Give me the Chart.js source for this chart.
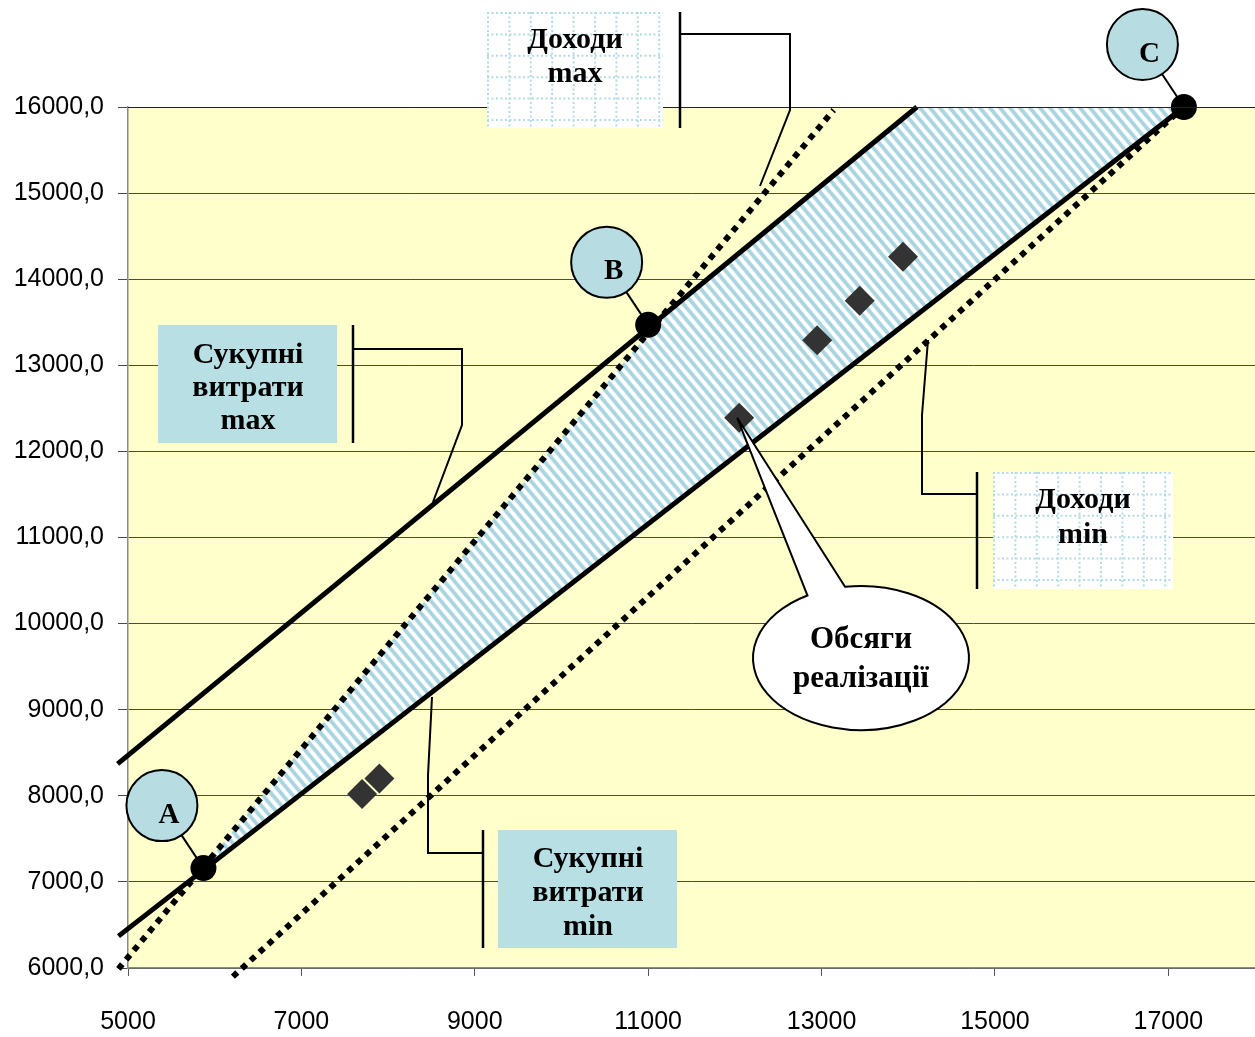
<!DOCTYPE html>
<html lang="uk">
<head>
<meta charset="utf-8">
<title>Зона беззбитковості</title>
<script src="https://cdn.jsdelivr.net/npm/chart.js@4.4.1/dist/chart.umd.min.js"></script>
<style>
  html, body { margin: 0; padding: 0; background: #ffffff; overflow: hidden; }
  #wrap { width: 1255px; height: 1037px; }
</style>
</head>
<body>
<div id="wrap"><canvas id="c" width="1255" height="1037"></canvas></div>
<script>
// Axis ticks
const xTicks = [5000, 7000, 9000, 11000, 13000, 15000, 17000];
const yTicks = [6000, 7000, 8000, 9000, 10000, 11000, 12000, 13000, 14000, 15000, 16000];

// Key points A, B, C
const keyLabels = ['A', 'B', 'C'];
const keyX = [5870, 11000, 17180];
const keyY = [7160, 13470, 16000];

// Sales volumes (Обсяги реалізації)
const salesX = [7700, 7900, 12050, 12950, 13440, 13940];
const salesY = [8020, 8200, 12390, 13290, 13750, 14260];

// Total costs, max and min (solid lines)
const costMaxX = [4880, 14100];
const costMaxY = [8370, 16000];
const costMinX = [4890, 17180];
const costMinY = [6370, 16000];

// Revenue, max and min (dotted lines)
const revMaxX = [4890, 13140];
const revMaxY = [5990, 15965];
const revMinX = [6210, 17130];
const revMinY = [5900, 15960];

// Shaded zone between the lines
const zoneX = [5780, 11190, 14100, 17180, 5780];
const zoneY = [7070, 13600, 16000, 16000, 7070];

const toPts = (xs, ys) => xs.map((x, i) => ({ x, y: ys[i] }));

const canvas = document.getElementById('c');
const ctx = canvas.getContext('2d');

// Diagonal light-blue stripes for the zone fill
function makeHatch() {
  const tw = 10, th = 12;
  const tile = document.createElement('canvas');
  tile.width = tw; tile.height = th;
  const g = tile.getContext('2d');
  const img = g.createImageData(tw, th);
  const blue = [168, 213, 223];
  for (let y = 0; y < th; y++) {
    for (let x = 0; x < tw; x++) {
      const phase = 2 * Math.PI * (x / tw - y / th);
      let w = 0.5 + 0.5 * Math.cos(phase);
      w = Math.min(1, Math.max(0, (w - 0.5) * 1.8 + 0.5));
      const i = (y * tw + x) * 4;
      img.data[i] = Math.round(255 * (1 - w) + blue[0] * w);
      img.data[i + 1] = Math.round(255 * (1 - w) + blue[1] * w);
      img.data[i + 2] = Math.round(255 * (1 - w) + blue[2] * w);
      img.data[i + 3] = 255;
    }
  }
  g.putImageData(img, 0, 0);
  return ctx.createPattern(tile, 'repeat');
}

const YELLOW = '#ffffcc';
const TEAL = '#b8dfe3';
const SERIF = '"Liberation Serif", "Times New Roman", serif';

// Plot background
const plotBackground = {
  id: 'plotBackground',
  beforeDraw(chart) {
    const { ctx, chartArea: a } = chart;
    ctx.save();
    ctx.fillStyle = YELLOW;
    ctx.fillRect(a.left, a.top, a.right - a.left, a.bottom - a.top);
    ctx.restore();
  }
};

function textLines(c, lines, cx, firstBaseline, step, size) {
  c.font = 'bold ' + size + 'px ' + SERIF;
  c.fillStyle = '#000';
  c.textAlign = 'center';
  c.textBaseline = 'alphabetic';
  lines.forEach((t, i) => c.fillText(t, cx, firstBaseline + i * step));
}

function gridBox(c, x, y, w, h) {
  c.save();
  c.fillStyle = '#ffffff';
  c.fillRect(x, y, w, h);
  c.beginPath();
  c.rect(x, y, w, h);
  c.clip();
  c.strokeStyle = '#b3dbe4';
  c.lineWidth = 2;
  c.setLineDash([2, 2.5]);
  c.beginPath();
  for (let gx = x + 1; gx <= x + w; gx += 21.4) { c.moveTo(gx, y); c.lineTo(gx, y + h); }
  for (let gy = y + 1; gy <= y + h; gy += 21.4) { c.moveTo(x, gy); c.lineTo(x + w, gy); }
  c.stroke();
  c.restore();
}

function tealBox(c, x, y, w, h) {
  c.save();
  c.fillStyle = TEAL;
  c.fillRect(x, y, w, h);
  c.restore();
}

function bracket(c, vx, vy1, vy2, path) {
  c.save();
  c.strokeStyle = '#000';
  c.lineCap = 'butt';
  c.lineJoin = 'miter';
  c.lineWidth = 2.5;
  c.beginPath();
  c.moveTo(vx, vy1); c.lineTo(vx, vy2);
  c.stroke();
  c.lineWidth = 2;
  c.beginPath();
  c.moveTo(path[0][0], path[0][1]);
  for (let i = 1; i < path.length; i++) c.lineTo(path[i][0], path[i][1]);
  c.stroke();
  c.restore();
}

// Connectors from the letter circles to the key points (under the dots)
const keyOffset = [-41.5, -62.5];
const leaders = {
  id: 'leaders',
  beforeDatasetsDraw(chart) {
    const { ctx: c, scales: { x, y } } = chart;
    c.save();
    c.strokeStyle = '#000';
    c.lineWidth = 2;
    keyX.forEach((kx, i) => {
      const px = x.getPixelForValue(kx), py = y.getPixelForValue(keyY[i]);
      c.beginPath();
      c.moveTo(px + keyOffset[0], py + keyOffset[1]);
      c.lineTo(px, py);
      c.stroke();
    });
    c.restore();
  }
};

const notes = {
  id: 'notes',
  afterDatasetsDraw(chart) {
    const { ctx: c, chartArea: a, scales: { x, y } } = chart;
    c.save();

    // top border of the plot
    c.strokeStyle = '#222';
    c.lineWidth = 1;
    c.beginPath();
    c.moveTo(a.left, a.top + 0.5);
    c.lineTo(a.right, a.top + 0.5);
    c.stroke();

    // Доходи max
    gridBox(c, 487, 12, 176, 116);
    textLines(c, ['Доходи', 'max'], 575, 48, 34, 30);
    bracket(c, 680, 12, 128, [[680, 34], [790, 34], [790, 110], [760, 186]]);

    // Сукупні витрати max
    tealBox(c, 158, 325, 179, 118);
    textLines(c, ['Сукупні', 'витрати', 'max'], 248, 363, 33, 30);
    bracket(c, 353, 325, 443, [[353, 349], [462, 349], [462, 425], [433, 502]]);

    // Доходи min
    gridBox(c, 993, 472, 180, 117);
    textLines(c, ['Доходи', 'min'], 1083, 508, 35, 30);
    bracket(c, 977, 472, 589, [[977, 494], [922, 494], [922, 415], [928, 340]]);

    // Сукупні витрати min
    tealBox(c, 498, 830, 179, 118);
    textLines(c, ['Сукупні', 'витрати', 'min'], 588, 867, 34, 30);
    bracket(c, 483, 830, 948, [[483, 853], [428, 853], [428, 775], [432, 697]]);

    // Callout for sales volumes
    const tipX = x.getPixelForValue(salesX[2]) - 2, tipY = y.getPixelForValue(salesY[2]);
    const ex = 861, ey = 658, rx = 108, ry = 72;
    const a1 = Math.atan2(-0.99, -0.148), a2 = Math.atan2(-0.875, -0.5);
    c.beginPath();
    c.moveTo(ex + rx * Math.cos(a1), ey + ry * Math.sin(a1));
    c.lineTo(tipX, tipY);
    c.lineTo(ex + rx * Math.cos(a2), ey + ry * Math.sin(a2));
    c.ellipse(ex, ey, rx, ry, 0, a2, a1, true);
    c.closePath();
    c.fillStyle = '#ffffff';
    c.fill();
    c.strokeStyle = '#000';
    c.lineWidth = 2;
    c.lineJoin = 'miter';
    c.stroke();
    textLines(c, ['Обсяги', 'реалізації'], ex, 648, 39, 31);

    // Letter circles for A, B, C
    keyX.forEach((kx, i) => {
      const cx = x.getPixelForValue(kx) + keyOffset[0];
      const cy = y.getPixelForValue(keyY[i]) + keyOffset[1];
      c.beginPath();
      c.arc(cx, cy, 35.5, 0, Math.PI * 2);
      c.fillStyle = '#b7dde2';
      c.fill();
      c.lineWidth = 2;
      c.strokeStyle = '#000';
      c.stroke();
      c.font = 'bold 29px ' + SERIF;
      c.fillStyle = '#000';
      c.textAlign = 'center';
      c.textBaseline = 'alphabetic';
      c.fillText(keyLabels[i], cx + 7, cy + 17);
    });

    c.restore();
  }
};

new Chart(canvas, {
  type: 'scatter',
  data: {
    datasets: [
      {
        label: 'Точки A, B, C',
        data: toPts(keyX, keyY),
        backgroundColor: '#000', borderColor: '#000', borderWidth: 0,
        pointRadius: 13, pointHoverRadius: 13,
        clip: false, order: 1
      },
      {
        label: 'Обсяги реалізації',
        data: toPts(salesX, salesY),
        pointStyle: 'rectRot',
        backgroundColor: '#333333', borderWidth: 0,
        pointRadius: 15, pointHoverRadius: 15,
        order: 2
      },
      {
        label: 'Сукупні витрати max',
        data: toPts(costMaxX, costMaxY),
        showLine: true, borderColor: '#000', borderWidth: 5, pointRadius: 0,
        clip: false, order: 3
      },
      {
        label: 'Сукупні витрати min',
        data: toPts(costMinX, costMinY),
        showLine: true, borderColor: '#000', borderWidth: 5, pointRadius: 0,
        clip: false, order: 3
      },
      {
        label: 'Доходи max',
        data: toPts(revMaxX, revMaxY),
        showLine: true, borderColor: '#000', borderWidth: 6, borderDash: [6, 6],
        borderCapStyle: 'butt', pointRadius: 0,
        clip: false, order: 4
      },
      {
        label: 'Доходи min',
        data: toPts(revMinX, revMinY),
        showLine: true, borderColor: '#000', borderWidth: 6, borderDash: [6, 6],
        borderCapStyle: 'butt', pointRadius: 0,
        clip: false, order: 4
      },
      {
        label: 'Зона',
        data: toPts(zoneX, zoneY),
        showLine: true, fill: 'shape', backgroundColor: makeHatch(),
        borderWidth: 0, borderColor: 'rgba(0,0,0,0)', pointRadius: 0,
        order: 9
      }
    ]
  },
  options: {
    responsive: false,
    animation: false,
    events: [],
    layout: { autoPadding: false, padding: { top: 107, right: 0, bottom: 0, left: 0 } },
    plugins: { legend: { display: false }, tooltip: { enabled: false } },
    scales: {
      x: {
        type: 'linear', min: 5000, max: 18000,
        afterBuildTicks: s => { s.ticks = xTicks.map(v => ({ value: v })); },
        afterFit: s => { s.height = 69; s.paddingLeft = 0; s.paddingRight = 0; },
        ticks: {
          autoSkip: false, maxRotation: 0, padding: 31, color: '#000',
          font: { family: '"Liberation Sans", Arial, sans-serif', size: 25 },
          callback: v => String(v)
        },
        grid: { drawOnChartArea: false, drawTicks: true, tickLength: 8, color: '#555', lineWidth: 1 },
        border: { display: true, color: '#8a8a8a', width: 1.5 }
      },
      y: {
        type: 'linear', min: 6000, max: 16000,
        afterBuildTicks: s => { s.ticks = yTicks.map(v => ({ value: v })); },
        afterFit: s => { s.width = 128; s.paddingTop = 0; s.paddingBottom = 0; },
        ticks: {
          padding: 14, color: '#000',
          font: { family: '"Liberation Sans", Arial, sans-serif', size: 25 },
          callback: v => Number(v).toFixed(1).replace('.', ',')
        },
        grid: { drawOnChartArea: true, tickLength: 10, color: '#4a4a4a', lineWidth: 1 },
        border: { display: true, color: '#8a8a8a', width: 1.5 }
      }
    }
  },
  plugins: [plotBackground, leaders, notes]
});
</script>
</body>
</html>
